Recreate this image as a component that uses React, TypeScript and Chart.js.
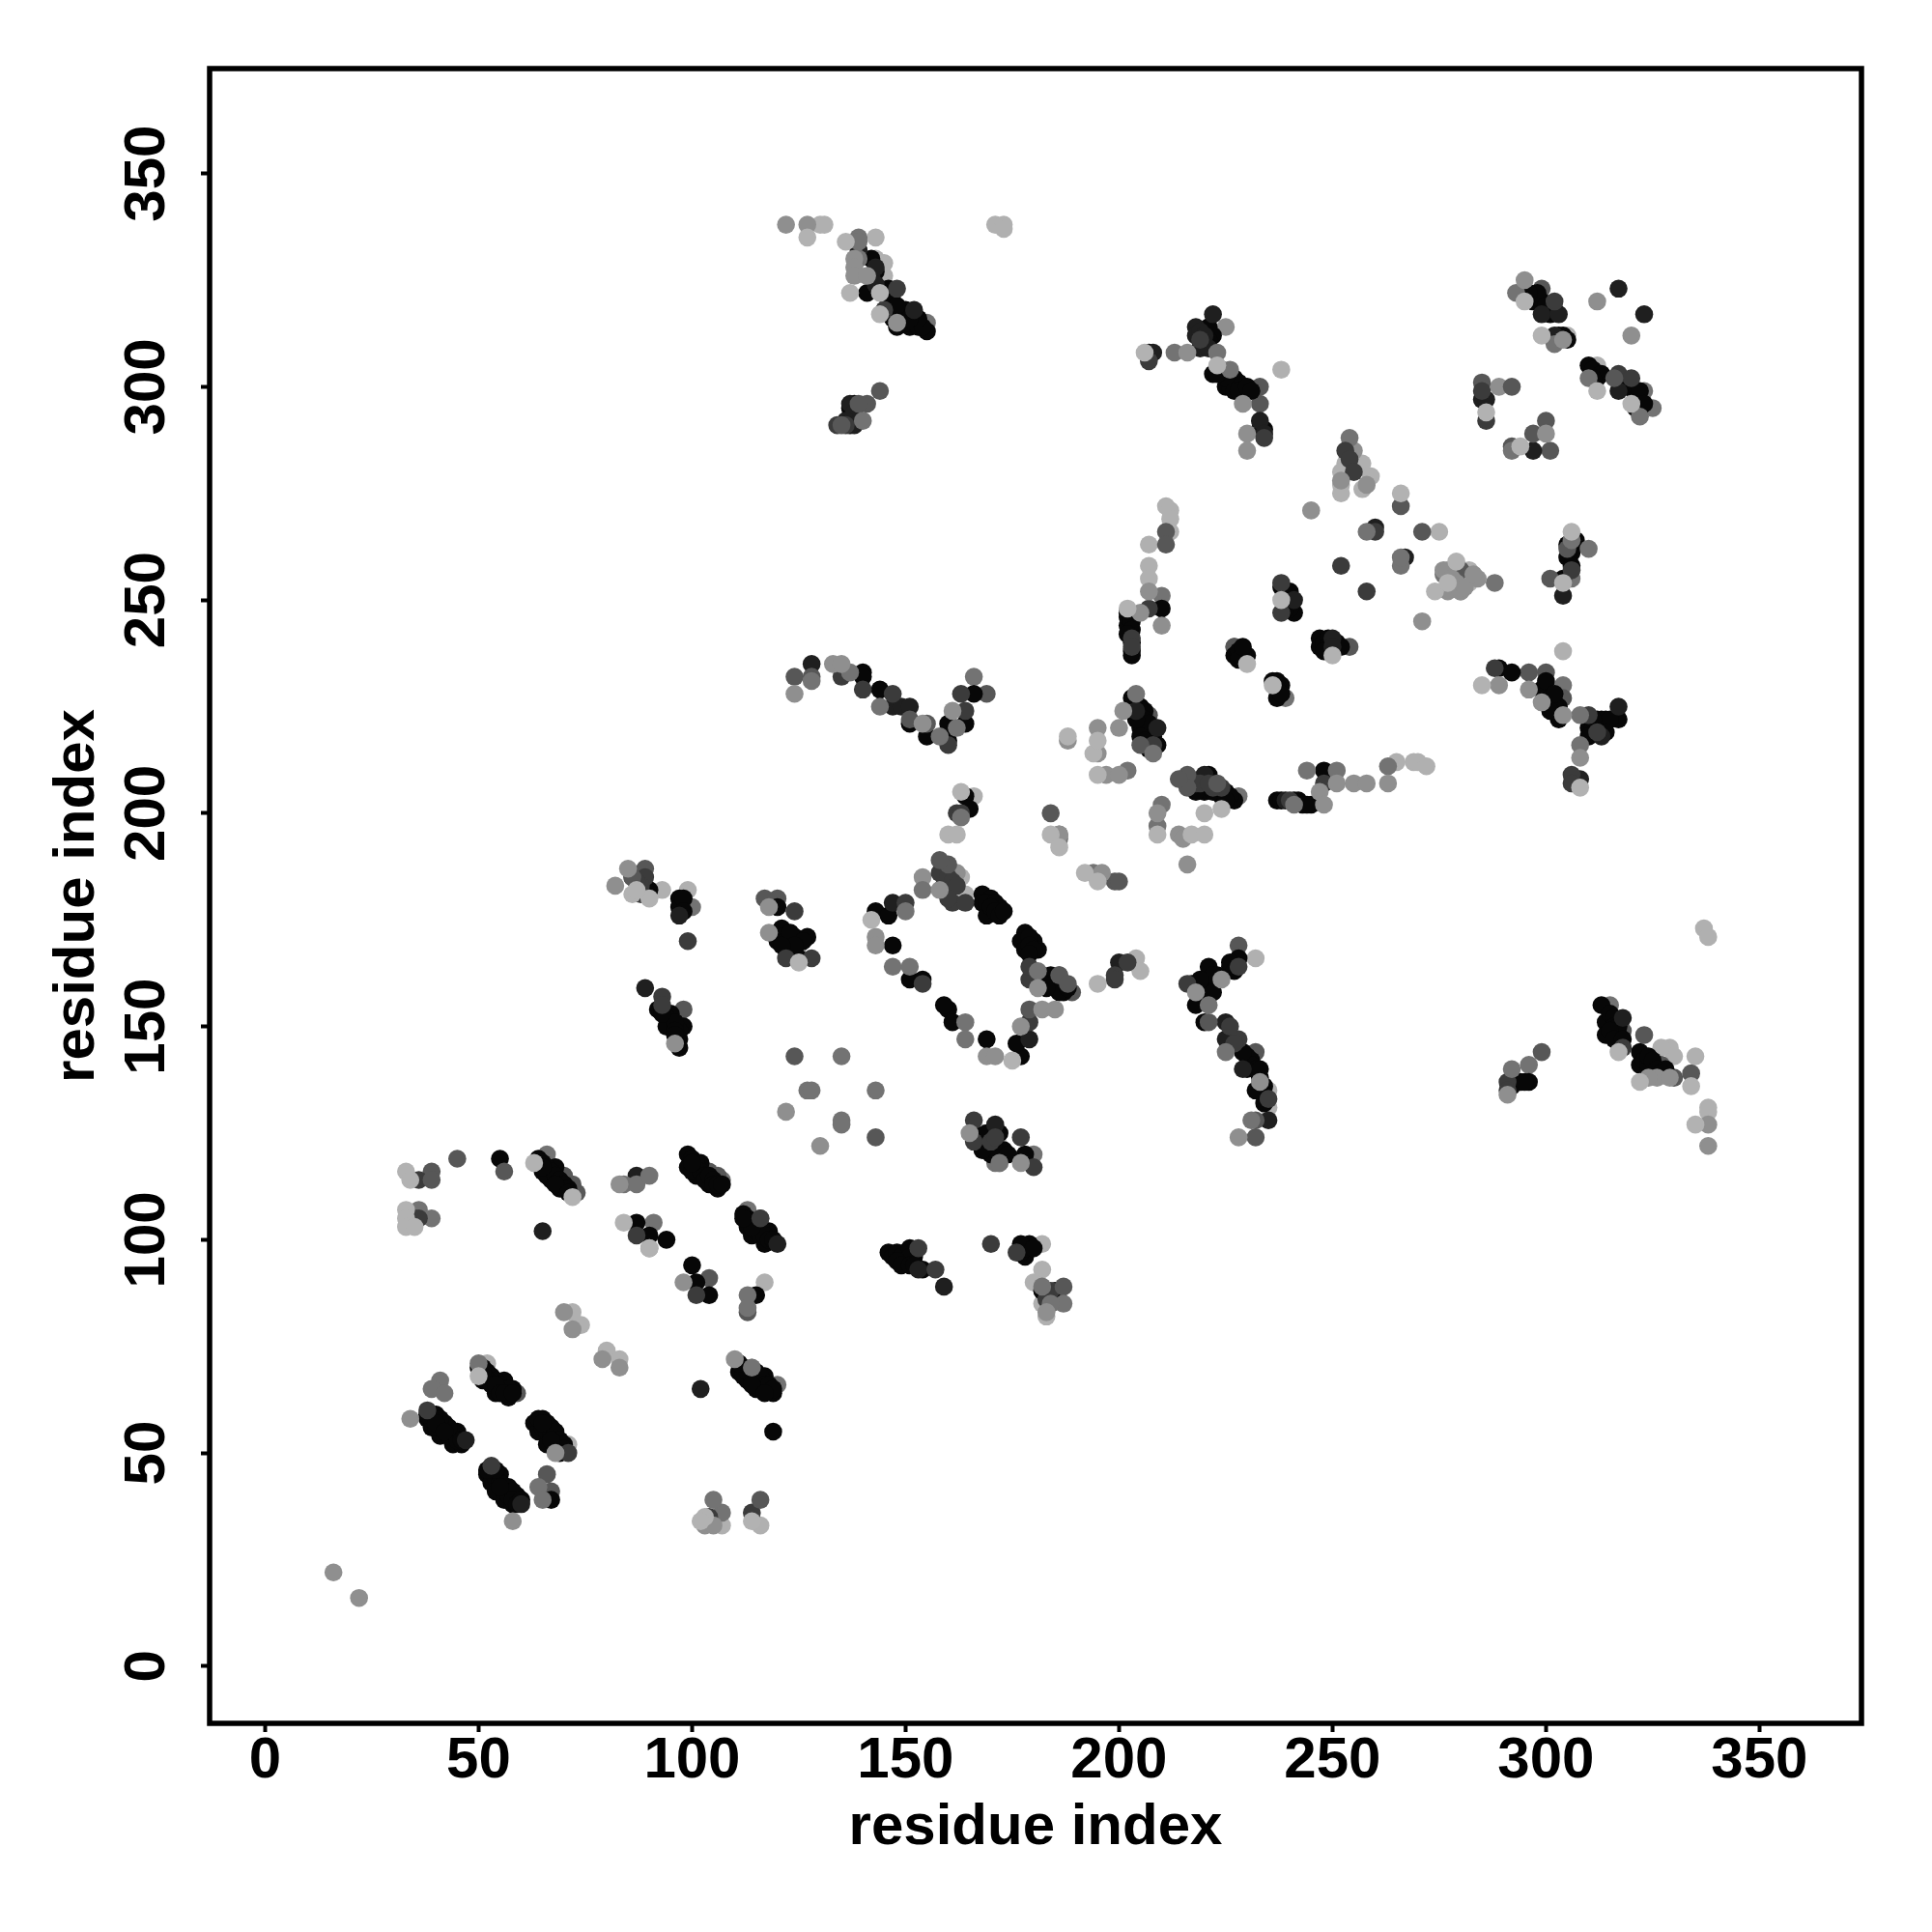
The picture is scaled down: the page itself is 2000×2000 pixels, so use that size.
import React, { useEffect, useRef } from "react";
import { Chart, registerables } from "chart.js";

Chart.register(...registerables);

type Pt = [number, number];

const tickValues = [0, 50, 100, 150, 200, 250, 300, 350];
const xTitle = "residue index";
const yTitle = "residue index";

const paleBack: Pt[] = [
  [33,116],[34,114],[33,107],[33,105],[33,103],[35,103],[72,110],[63,118],[84,104],[90,98],[103,35],[102,34],[114,34],[50,68],[86,181],[90,180],[87,182],[125,165],[142,175],[175,142],[160,195],[162,195],[163,205],
  [136,334],[127,335],[137,322],[144,322],[144,317],[202,248],[206,308],[223,305],[195,160],[217,195],[220,195],[220,200],[224,201],[209,195],[195,209],[194,214],[195,217],[188,218],[184,195],[186,192],[192,186],[195,184],[285,230],[322,137],[317,144],[334,136],[335,127],[230,235],[238,250],[236,230],[250,237],[286,294],[294,286],[308,206],[312,299],[320,296],[295,320],[299,312],[274,252],[279,259],[277,254],[306,266],[304,254],[266,275],
];
const grayBack: Pt[] = [
  [16,22],[22,16],[122,130],[130,122],[83,113],[90,98],[110,72],[98,90],[103,33],[105,33],[70,83],[72,79],[79,72],[83,70],[34,58],[58,34],[68,50],[96,146],[82,183],[85,187],[118,178],[118,172],[143,171],[143,169],[158,182],[177,150],[181,159],[169,143],[171,143],[182,154],[185,154],[177,118],[165,125],[124,228],[133,235],[135,235],[154,221],[161,224],[200,220],[201,224],[195,220],[195,214],[188,217],[197,209],[200,209],[209,200],[214,195],[215,194],[216,188],[186,195],[196,186],[122,338],[127,338],[138,330],[138,328],[138,326],[141,326],[148,315],[216,308],[229,296],[230,289],[230,285],[205,247],[207,252],[210,244],[218,158],[224,161],[233,137],[228,124],[326,138],[324,138],[329,138],[338,127],[338,122],[291,134],[245,271],[276,257],[277,252],[279,254],[280,252],[277,257],[284,255],[289,230],[296,229],[299,226],[308,213],[304,223],[300,289],[320,312],[312,320],[295,325],[304,311],[251,207],[255,207],[258,207],[263,207],[247,205],[248,202],[271,245],[252,278],[278,255],[281,253],[283,256],[183,83],
];
const midBack: Pt[] = [
  [41,67],[39,65],[42,64],[84,113],[87,113],[90,115],[105,39],[114,70],[64,42],[65,39],[113,87],[113,84],[50,71],[150,177],[154,182],[147,164],[151,164],[164,151],[164,147],[163,199],[172,118],[182,89],[128,231],[137,233],[144,225],[158,218],[162,220],[204,228],[208,214],[202,210],[210,202],[209,197],[186,194],[194,186],[139,334],[139,330],[140,292],[213,308],[223,308],[226,304],[221,155],[225,144],[231,128],[292,140],[181,163],[266,258],[266,260],[258,266],[276,256],[280,253],[288,254],[244,210],[241,202],[251,210],[263,211],[308,223],[308,216],[310,262],[306,264],[292,285],[293,322],[302,310],[310,302],[322,293],
  [135,143],[127,135],[128,135],[143,135],[135,128],[135,127],[187,85],[184,85],
];
const midDarkBack: Pt[] = [
  [45,119],[56,116],[39,114],[66,45],[116,39],[113,83],[86,185],[117,180],[160,188],[158,189],[179,154],[186,162],[188,160],[124,143],[143,124],[124,232],[128,232],[151,222],[155,221],[205,216],[184,200],[199,184],[200,184],[216,209],[216,206],[214,208],[223,207],[135,291],[139,296],[144,299],[211,266],[211,263],[232,124],[232,128],[221,151],[305,262],[301,255],[292,286],[297,289],[316,302],[271,266],[266,272],[280,257],[279,256],[187,89],
];
const dark: Pt[] = [
  [36,114],[38,60],[53,47],[35,105],[34,105],[36,105],[34,104],[87,101],[101,87],[116,105],[71,50],[114,36],[104,35],[93,157],[93,155],[89,185],[88,183],[87,184],[88,181],[124,177],[122,166],[128,166],[150,179],[161,179],[164,179],[158,186],[160,185],[161,184],[160,182],[162,183],[160,180],[166,128],[166,123],[170,123],[177,124],[180,117],[153,98],[157,93],[176,97],[135,232],[140,229],[147,228],[160,216],[164,224],[163,228],[162,200],[163,200],[208,216],[199,162],[199,161],[202,165],[216,160],[228,164],[228,147],[235,133],[291,137],[291,135],[318,145],[207,306],[145,318],[148,323],[134,291],[136,291],[207,248],[219,311],[285,299],[286,292],[203,241],[203,239],[238,254],[238,247],[252,258],[258,252],[260,266],[248,207],[224,206],[288,234],[306,257],[310,223],[312,219],[306,209],[306,207],[302,320],[317,303],[320,302],[240,203],[170,99],[99,170],[179,151],[154,160],[179,161],[179,164],[234,288],[253,285],[254,283],[255,280],[184,88],[183,86],[222,206],[218,207],[219,207],[221,207],[226,150],[227,146],[171,124],
];
const nearBlack: Pt[] = [
  [65,102],[102,65],[120,99],[47,53],[60,38],[87,115],[147,179],[89,159],[97,176],[171,127],[153,93],[159,89],[128,235],[147,225],[149,225],[151,225],[204,224],[209,220],[220,209],[225,151],[225,147],[229,140],[235,128],[318,152],[137,296],[152,318],[218,314],[222,317],[208,308],[233,292],[234,289],[285,297],[286,297],[299,317],[303,317],[302,312],[317,299],[267,260],[260,267],[239,203],[241,250],[250,241],[250,239],[304,251],[313,218],[308,208],[297,285],[179,147],[200,165],[317,225],[323,317],[317,323],[218,312],[219,313],[220,312],[220,310],[219,309],[221,309],[142,326],[143,324],[139,332],[143,328],[138,294],[136,292],[138,291],
];
const black: Pt[] = [
  [55,119],[64,119],[65,116],[68,117],[67,114],[69,112],[87,104],[90,101],[94,100],[99,120],[99,117],[102,118],[101,115],[104,113],[106,112],[112,106],[114,101],[118,102],[117,99],[100,94],[101,90],[104,87],[115,87],[111,69],[117,68],[113,67],[115,65],[119,64],[119,55],
  [40,59],[38,58],[42,57],[39,56],[41,54],[45,55],[44,52],[46,52],[51,67],[56,67],[54,64],[57,63],[58,65],[50,70],[65,58],[63,57],[64,55],[67,56],[66,52],[69,52],[52,45],[55,45],[54,41],[57,42],[56,39],[59,40],[58,38],[67,39],
  [97,180],[97,178],[98,180],[98,177],[92,154],[95,153],[95,150],[98,150],[97,149],[97,145],[93,154],[94,152],[94,150],[96,151],[96,149],[97,147],[93,153],[96,148],[90,182],[89,182],[120,178],[121,173],[120,170],[124,171],[127,171],[125,166],[121,171],[122,170],[123,172],[122,168],[123,168],[124,168],[126,170],[124,169],[121,169],[143,177],[146,176],[147,169],[151,161],[154,161],[160,154],[159,155],[161,151],[169,147],[177,143],[176,146],[159,183],[168,181],[170,180],[168,179],[172,178],[170,177],[169,176],[169,179],[171,179],[170,178],[171,177],[172,176],[173,177],[178,172],[180,170],[177,170],[181,168],[178,168],[179,171],[179,169],[180,168],[179,167],[183,161],[187,158],[182,162],[184,162],[184,160],[185,160],[186,160],[187,160],[186,158],[188,159],[182,160],[183,159],[166,125],[173,121],[170,120],[178,120],[167,124],[168,123],[169,122],[169,125],[171,121],[172,120],[172,125],[168,121],[174,120],[146,97],[150,97],[150,95],[152,96],[147,96],[148,97],[149,96],[151,98],[151,96],[148,95],[149,94],[151,94],[152,94],[154,93],[179,99],[178,96],[177,97],[178,98],[177,99],[180,98],[183,87],[182,88],[183,88],[185,88],
  [140,233],[140,232],[144,229],[151,221],[155,218],[160,221],[160,217],[164,221],[166,228],[164,204],[165,201],[203,227],[203,224],[205,220],[205,225],[206,224],[206,222],[207,221],[204,222],[207,219],[208,218],[205,218],[206,217],[209,216],[207,215],[220,205],[217,160],[221,164],[221,160],[228,166],[219,157],[219,159],[222,158],[223,162],[222,162],[226,164],[226,165],[227,163],[219,161],[230,143],[231,142],[230,140],[231,141],[233,138],[234,136],[234,134],[234,132],[218,155],[220,151],[229,144],[232,140],[233,140],[232,135],[296,137],[293,137],[292,136],[294,137],[295,137],[313,155],[314,151],[314,148],[317,148],[315,153],[316,152],[316,150],[317,150],[315,149],[316,147],[318,147],[322,144],[322,141],[323,142],[324,141],[324,143],[325,142],[326,140],[328,140],[327,139],
  [141,322],[142,330],[144,323],[148,317],[148,314],[151,314],[155,313],[137,293],[143,327],[145,322],[146,323],[147,322],[146,320],[150,318],[149,316],[150,315],[152,315],[153,314],[154,314],[153,316],[147,316],[148,319],[151,316],[137,291],[137,295],[138,296],[221,314],[222,303],[224,304],[223,304],[225,300],[229,300],[226,300],[227,302],[228,301],[225,302],[227,299],[228,299],[230,300],[231,299],[223,303],[222,312],[221,311],[233,290],[234,290],[210,248],[202,247],[202,244],[203,237],[202,246],[203,245],[203,243],[202,242],[203,240],[203,238],[227,237],[230,237],[228,238],[229,237],[228,236],[229,239],[241,247],[238,253],[239,252],[239,250],[240,248],[240,252],[239,248],[237,231],[237,227],[236,231],[238,230],[237,230],[237,229],[238,228],[247,241],[247,239],[248,240],[249,241],[249,239],[251,240],[252,239],[248,238],[289,234],[292,233],[299,229],[300,226],[303,225],[303,222],[300,228],[300,231],[301,227],[302,226],[302,225],[303,223],[302,228],[301,224],[313,222],[317,222],[310,220],[311,220],[312,222],[313,220],[314,222],[315,222],[310,218],[314,219],[311,222],[306,262],[306,261],[304,255],[305,260],[307,264],[306,258],[305,263],[295,322],[299,320],[296,321],[297,320],[298,321],[298,322],[300,318],[301,317],[300,319],[302,318],[296,322],[303,312],[304,312],[305,311],[310,305],[312,302],[311,304],[313,303],[311,302],[318,300],[319,301],[319,300],[321,298],[321,297],[322,299],[322,295],[321,295],[323,296],[224,204],[227,203],[222,205],[225,205],[226,204],[218,205],[221,209],[225,203],[237,203],[238,203],[241,203],[242,203],[243,202],[245,202],[244,202],[248,210],[207,308],
  [39,59],[40,58],[41,57],[42,56],[43,54],[44,55],[45,53],[40,56],[43,56],[46,53],[39,58],[41,58],[38,59],[40,57],[42,55],[51,70],[52,69],[53,68],[54,67],[55,66],[56,65],[57,65],[52,67],[53,66],[54,66],[55,64],[56,64],[51,69],[58,64],[64,58],[65,56],[66,57],[66,55],[67,54],[68,55],[68,53],[69,53],[70,52],[70,51],[65,57],[67,53],[69,50],[53,45],[53,43],[54,44],[55,43],[56,42],[56,41],[57,40],[58,41],[58,39],[59,38],[54,46],[55,42],[52,46],[60,39],[65,118],[66,117],[67,116],[66,115],[68,115],[69,114],[70,113],[70,112],[71,112],[68,113],[65,117],[71,111],[100,119],[101,118],[100,116],[102,116],[103,115],[103,114],[104,115],[105,114],[105,113],[106,113],[107,113],[100,118],[113,105],[114,104],[115,104],[113,103],[115,102],[116,103],[116,101],[117,101],[118,100],[119,100],[114,103],[112,105],[112,70],[112,68],[114,68],[115,69],[115,67],[116,66],[116,68],[117,66],[118,65],[118,66],[119,65],[113,69],[114,66],[111,71],[117,64],
];
const midDarkFront: Pt[] = [
  [98,154],[89,187],[120,180],[228,169],[323,148],[330,138],[334,139],[299,144],[233,300],[233,296],[232,144],[318,149],[207,223],[301,285],[285,301],[304,227],[300,292],[300,233],[296,233],[227,239],[254,239],[104,91],[189,158],[73,111],[59,64],[67,41],[39,116],[149,318],[169,228],[141,296],[327,141],[292,300],[299,323],[72,113],[70,115],[104,116],[106,115],[116,105],[86,185],[186,162],
];
const midFront: Pt[] = [
  [66,120],[36,107],[91,104],[39,105],[107,114],[113,107],[120,66],[107,36],[100,178],[180,120],[315,155],[296,141],[155,315],[166,232],[228,204],[304,230],[306,255],[323,299],[325,295],[239,227],[210,251],[139,335],[186,195],[227,239],[254,288],[171,118],
];
const grayFront: Pt[] = [
  [125,169],[255,285],[258,277],[162,186],[154,185],[225,314],[172,118],[289,300],[280,252],[233,135],[114,70],
];
const paleFront: Pt[] = [
  [74,80],[80,74],[83,72],[71,52],[52,71],[72,83],[182,99],[163,185],[164,181],[99,182],[166,204],[143,330],[145,329],[145,326],[143,335],[130,338],[131,338],[171,338],[173,338],[173,337],[211,272],[212,271],[212,269],[212,266],[207,263],[207,258],[207,255],[238,304],[305,312],[312,305],[329,145],[330,143],[327,145],[335,143],[235,135],[235,131],[204,166],[205,163],[232,166],[337,173],[338,171],[338,131],[338,130],[93,182],[117,90],[182,93],[180,90],[183,82],[182,85],[265,212],[269,212],[270,212],[272,211],[282,257],[282,254],[253,282],[252,280],[252,277],[252,275],[257,282],[259,279],[257,276],[304,238],[275,266],[122,172],[168,125],[172,122],[116,33],[107,33],
];

const layers: [Pt[], string][] = [
  [paleBack, "#b2b2b2"],
  [grayBack, "#8f8f8f"],
  [midBack, "#737373"],
  [midDarkBack, "#575757"],
  [dark, "#3b3b3b"],
  [nearBlack, "#1f1f1f"],
  [black, "#070707"],
  [midDarkFront, "#575757"],
  [midFront, "#737373"],
  [grayFront, "#8f8f8f"],
  [paleFront, "#b0b0b0"],
];

const framePlugin = {
  id: "frame",
  afterDatasetsDraw(chart: any) {
    const { ctx, chartArea: a } = chart;
    ctx.save();
    ctx.strokeStyle = "#000";
    ctx.lineWidth = 5.5;
    ctx.strokeRect(a.left, a.top, a.right - a.left, a.bottom - a.top);
    ctx.restore();
  },
};

export default function App() {
  const ref = useRef<HTMLCanvasElement>(null);
  useEffect(() => {
    if (!ref.current) return;
    const font = { family: "'Liberation Sans'", size: 60, weight: "bold" as const };
    const setTicks = (s: any) => {
      s.ticks = tickValues.map((value) => ({ value }));
    };
    const chart = new Chart(ref.current, {
      type: "scatter",
      data: {
        datasets: layers.map(([pts, color]) => ({
          data: pts.map(([x, y]) => ({ x, y })),
          backgroundColor: color,
          pointRadius: 9.3,
          pointBorderWidth: 0,
          showLine: false,
        })),
      },
      options: {
        animation: false,
        responsive: false,
        layout: { padding: { top: 71, right: 73, left: 0, bottom: 0 } },
        plugins: { legend: { display: false }, tooltip: { enabled: false } },
        scales: {
          x: {
            type: "linear",
            min: -13,
            max: 373.9,
            afterBuildTicks: setTicks,
            afterFit: (s: any) => { s.height = 216; },
            border: { display: false },
            grid: { drawOnChartArea: false, tickLength: 9, tickWidth: 4, tickColor: "#000" },
            ticks: { color: "#000", font, padding: -6, maxRotation: 0, minRotation: 0, autoSkip: false },
            title: { display: true, text: xTitle, color: "#000", font, padding: { top: 0, bottom: 72 } },
          },
          y: {
            type: "linear",
            min: -13.4,
            max: 374.6,
            afterBuildTicks: setTicks,
            afterFit: (s: any) => { s.width = 217; },
            border: { display: false },
            grid: { drawOnChartArea: false, tickLength: 9, tickWidth: 4, tickColor: "#000" },
            ticks: { color: "#000", font, padding: 4, maxRotation: 90, minRotation: 90, crossAlign: "center", autoSkip: false },
            title: { display: true, text: yTitle, color: "#000", font, padding: { top: 44, bottom: 0 } },
          },
        },
      },
      plugins: [framePlugin],
    } as any);
    return () => chart.destroy();
  }, []);
  return (
    <div style={{ position: "absolute", left: 0, top: 0, width: 2000, height: 2000, background: "#fff" }}>
      <canvas ref={ref} width={2000} height={2000} style={{ display: "block" }} />
    </div>
  );
}
